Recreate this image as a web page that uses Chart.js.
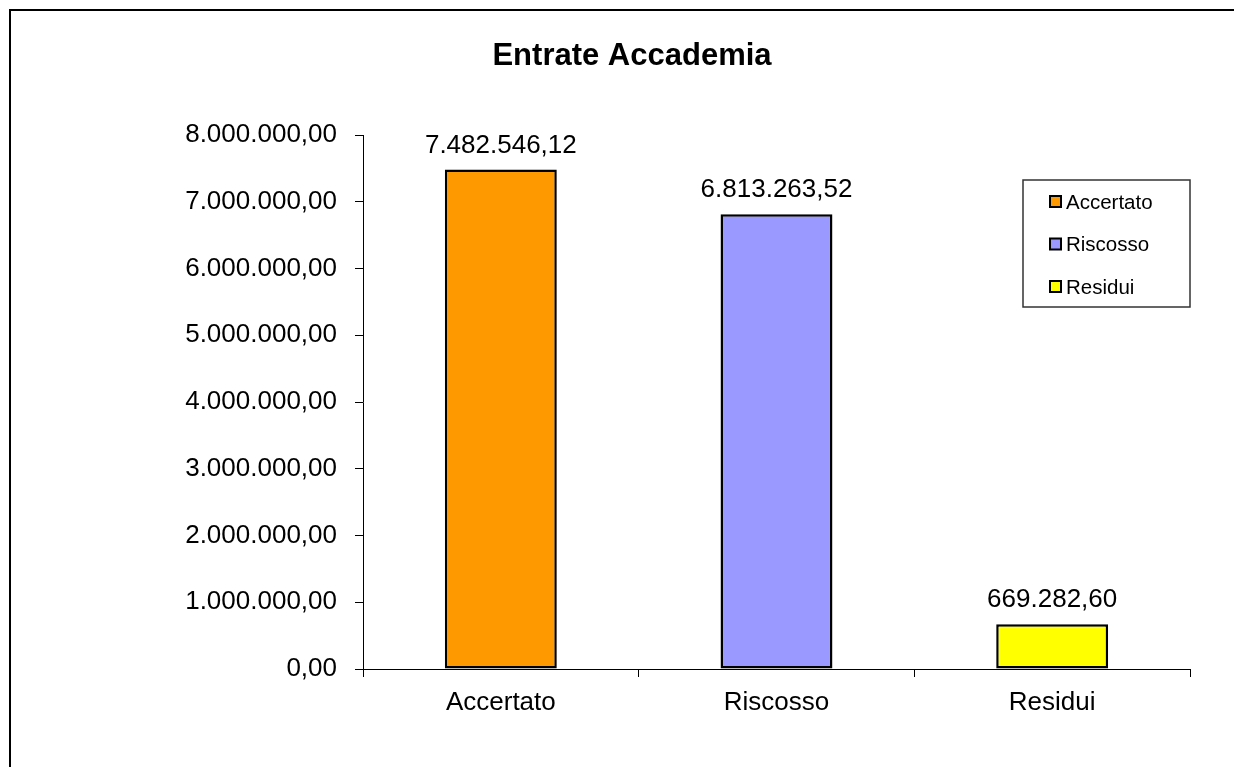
<!DOCTYPE html>
<html>
<head>
<meta charset="utf-8">
<title>Entrate Accademia</title>
<script src="https://cdn.jsdelivr.net/npm/chart.js@4.4.1/dist/chart.umd.min.js"></script>
<style>
  html, body { margin: 0; padding: 0; background: #fff; }
  #grafico { display: block; }
</style>
</head>
<body>
<canvas id="grafico" width="1234" height="767"></canvas>
<script>
// dati
const categorie = ['Accertato', 'Riscosso', 'Residui'];
const valori = [7482546.12, 6813263.52, 669282.60];
const colori = ['#FF9900', '#9999FF', '#FFFF00'];
const titolo = 'Entrate Accademia';

const FONT = '"Liberation Sans", Arial, sans-serif';

// formato italiano: 7.482.546,12
function formatta(v) {
    const parti = Number(v).toFixed(2).split('.');
    const intero = parti[0].replace(/\B(?=(\d{3})+(?!\d))/g, '.');
    return intero + ',' + parti[1];
}

// cornice esterna + titolo
const cornice = {
    id: 'cornice',
    afterDraw(chart) {
        const ctx = chart.ctx;
        ctx.save();
        ctx.strokeStyle = '#000';
        ctx.lineWidth = 2;
        ctx.beginPath();
        ctx.moveTo(10, 767);
        ctx.lineTo(10, 10);
        ctx.lineTo(1234, 10);
        ctx.stroke();

        ctx.fillStyle = '#000';
        ctx.font = 'bold 31px ' + FONT;
        ctx.textAlign = 'center';
        ctx.textBaseline = 'alphabetic';
        ctx.fillText(titolo, 632, 65);
        ctx.restore();
    }
};

// etichette sopra le barre
const etichette = {
    id: 'etichette',
    afterDatasetsDraw(chart) {
        const ctx = chart.ctx;
        const meta = chart.getDatasetMeta(0);
        ctx.save();
        ctx.fillStyle = '#000';
        ctx.font = '26px ' + FONT;
        ctx.textAlign = 'center';
        ctx.textBaseline = 'alphabetic';
        meta.data.forEach((bar, i) => {
            ctx.fillText(formatta(valori[i]), bar.x, bar.y - 17);
        });
        ctx.restore();
    }
};

// legenda nel riquadro a destra
const legenda = {
    id: 'legenda',
    afterDraw(chart) {
        const ctx = chart.ctx;
        const area = chart.chartArea;
        const x0 = area.right - 167, y0 = 180, w = 167, h = 127;
        ctx.save();
        ctx.fillStyle = '#fff';
        ctx.fillRect(x0, y0, w, h);
        ctx.strokeStyle = '#333';
        ctx.lineWidth = 1.5;
        ctx.strokeRect(x0, y0, w, h);
        ctx.font = '20.5px ' + FONT;
        ctx.textBaseline = 'middle';
        ctx.textAlign = 'left';
        categorie.forEach((c, i) => {
            const cy = 202 + i * 42.5;
            ctx.fillStyle = colori[i];
            ctx.fillRect(x0 + 27, cy - 6, 11, 11);
            ctx.strokeStyle = '#000';
            ctx.lineWidth = 2;
            ctx.strokeRect(x0 + 27, cy - 6, 11, 11);
            ctx.fillStyle = '#000';
            ctx.fillText(c, x0 + 43, cy + 1);
        });
        ctx.restore();
    }
};

new Chart(document.getElementById('grafico'), {
    type: 'bar',
    data: {
        labels: categorie,
        datasets: [{
            label: titolo,
            data: valori,
            backgroundColor: colori,
            borderColor: '#000',
            borderWidth: 2.5,
            borderSkipped: false,
            categoryPercentage: 1,
            barPercentage: 0.406
        }]
    },
    options: {
        responsive: false,
        animation: false,
        events: [],
        layout: { padding: { left: 10, top: 135, right: 44, bottom: 0 } },
        plugins: {
            legend: { display: false },
            title: { display: false },
            tooltip: { enabled: false }
        },
        scales: {
            y: {
                min: 0,
                max: 8000000,
                afterFit: scale => { scale.width = 353; },
                ticks: {
                    stepSize: 1000000,
                    color: '#000',
                    padding: 18,
                    font: { family: FONT, size: 26 },
                    callback: v => formatta(v)
                },
                grid: {
                    drawOnChartArea: false,
                    tickLength: 8,
                    color: '#000'
                },
                border: { color: '#000', width: 1 }
            },
            x: {
                afterFit: scale => { scale.height = 98; },
                ticks: {
                    color: '#000',
                    padding: 10,
                    font: { family: FONT, size: 26 }
                },
                grid: {
                    offset: true,
                    drawOnChartArea: false,
                    tickLength: 8,
                    color: '#000'
                },
                border: { color: '#000', width: 1 }
            }
        }
    },
    plugins: [cornice, etichette, legenda]
});
</script>
</body>
</html>
